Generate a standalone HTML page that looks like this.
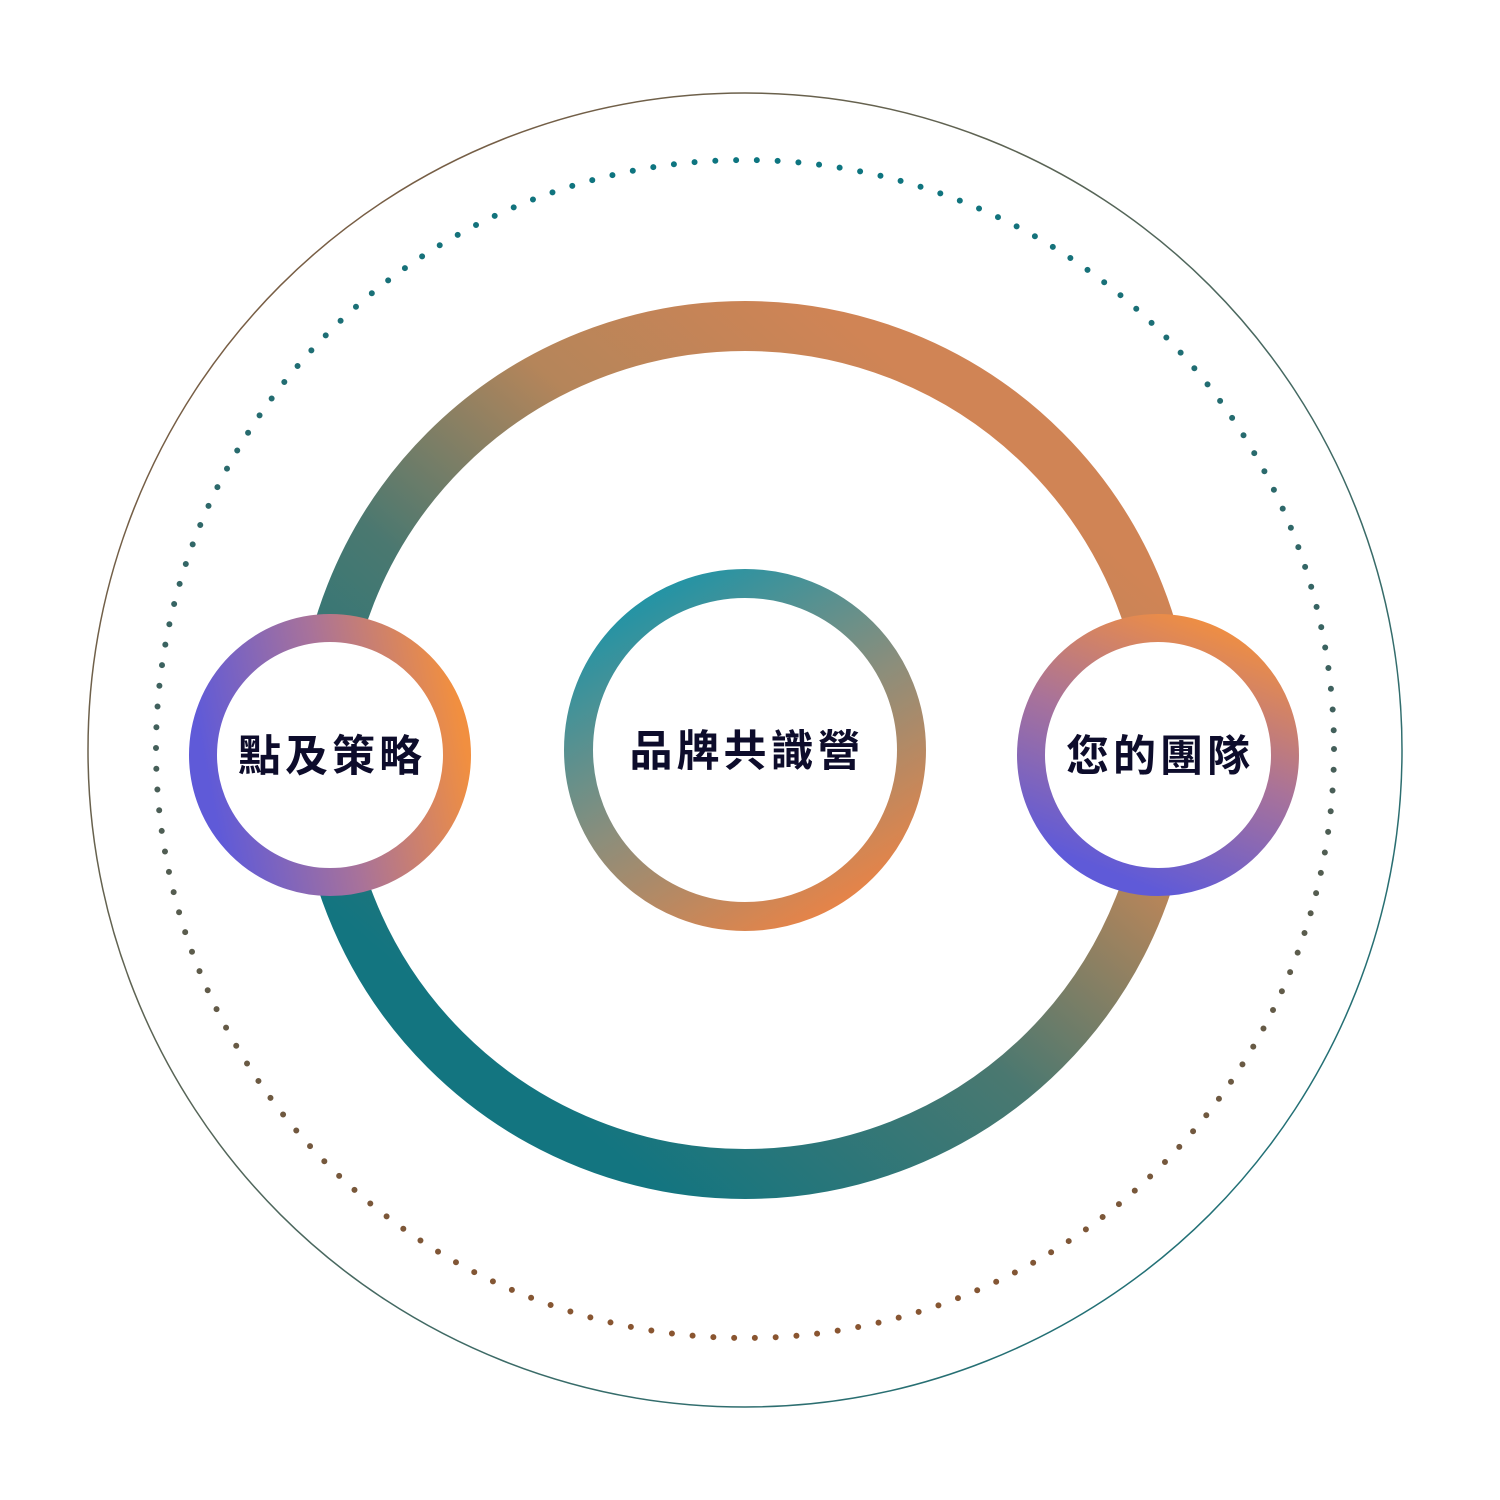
<!DOCTYPE html>
<html><head><meta charset="utf-8"><style>
html,body{margin:0;padding:0;background:#fff;}
svg{display:block}
text{font-family:"Liberation Sans","Noto Sans CJK TC",sans-serif;font-weight:700;fill:#0d0c2b;letter-spacing:4px}
</style></head><body>
<svg width="1500" height="1500" viewBox="0 0 1500 1500" xmlns="http://www.w3.org/2000/svg">
<defs>
<linearGradient id="gOuter" x1="0" y1="0" x2="1" y2="1"><stop offset="0" stop-color="#8a5a3a"/><stop offset="1" stop-color="#107480"/></linearGradient>
<linearGradient id="gDots" x1="0" y1="0" x2="0" y2="1"><stop offset="0" stop-color="#0d7580"/><stop offset="0.5" stop-color="#445f5a"/><stop offset="1" stop-color="#8a5530"/></linearGradient>
<linearGradient id="gBig" x1="0.8" y1="0.15" x2="0.2" y2="0.85"><stop offset="0" stop-color="#d08455"/><stop offset="0.3" stop-color="#b5855a"/><stop offset="0.6" stop-color="#4a7870"/><stop offset="1" stop-color="#137580"/></linearGradient>
<linearGradient id="gCenter" x1="0.2" y1="0" x2="0.8" y2="1"><stop offset="0" stop-color="#1c94a8"/><stop offset="0.5" stop-color="#8a8e7c"/><stop offset="1" stop-color="#ec8345"/></linearGradient>
<linearGradient id="gLeft" x1="0" y1="0.5" x2="1" y2="0.3"><stop offset="0" stop-color="#5f5ad8"/><stop offset="0.5" stop-color="#a8729a"/><stop offset="1" stop-color="#f18f40"/></linearGradient>
<linearGradient id="gRight" x1="0.8" y1="0" x2="0.4" y2="1"><stop offset="0" stop-color="#f18f40"/><stop offset="0.5" stop-color="#a8729a"/><stop offset="1" stop-color="#5f5ad8"/></linearGradient>
</defs>
<circle cx="745" cy="750" r="657" fill="none" stroke="url(#gOuter)" stroke-width="1.5"/>
<circle cx="745" cy="749" r="589" fill="none" stroke="url(#gDots)" stroke-width="6" stroke-linecap="round" stroke-dasharray="0 20.8"/>
<circle cx="745" cy="750" r="424" fill="none" stroke="url(#gBig)" stroke-width="50"/>
<circle cx="745" cy="750" r="166.5" fill="#fff" stroke="url(#gCenter)" stroke-width="29"/>
<circle cx="330" cy="755" r="127" fill="#fff" stroke="url(#gLeft)" stroke-width="28"/>
<circle cx="1158" cy="755" r="127" fill="#fff" stroke="url(#gRight)" stroke-width="28"/>
<text x="747" y="766" font-size="43" text-anchor="middle">品牌共識營</text>
<text x="332" y="771" font-size="43" text-anchor="middle">點及策略</text>
<text x="1160" y="771" font-size="43" text-anchor="middle">您的團隊</text>
</svg>
</body></html>
